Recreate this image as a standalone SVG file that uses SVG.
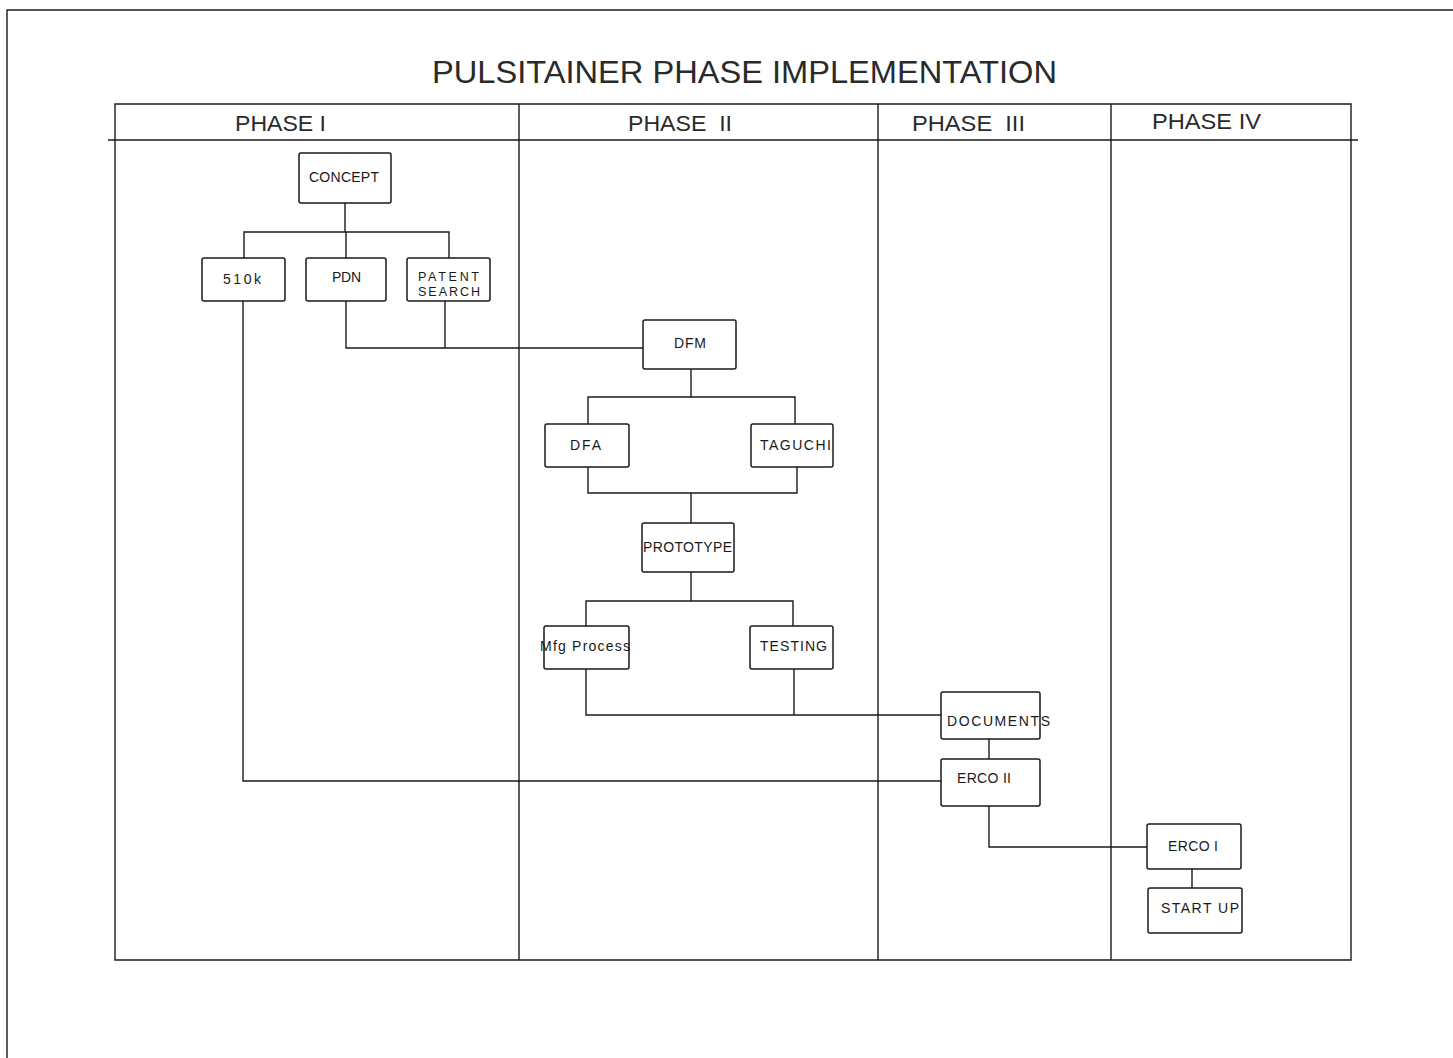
<svg xmlns="http://www.w3.org/2000/svg" width="1453" height="1058" viewBox="0 0 1453 1058">
<style>
.ln{fill:none;stroke:#1a1a1a;stroke-width:1.4}
.box{fill:#fff;stroke:#1a1a1a;stroke-width:1.5}
.t{font-family:"Liberation Sans",Arial,sans-serif;fill:#1a1a1a}
.lbl{font-size:14px;letter-spacing:1px}
.sm{font-size:12.5px}
.ph{font-size:22px;fill:#2a2a2a}
.ttl{font-size:31px;fill:#2a2a2a}
</style>
<rect width="1453" height="1058" fill="#fff"/>
<g id="frame">
<path class="ln" d="M7,1058 V10 H1453"/>
<path class="ln" d="M115,960 V104 H1351 V960 Z"/>
<path class="ln" d="M108,140 H1358"/>
<path class="ln" d="M519,104 V960 M878,104 V960 M1111,104 V960"/>
<text class="t ttl" x="432" y="83" textLength="625" lengthAdjust="spacingAndGlyphs">PULSITAINER PHASE IMPLEMENTATION</text>
<text class="t ph" x="235" y="131" textLength="91" lengthAdjust="spacingAndGlyphs">PHASE I</text>
<text class="t ph" x="628" y="131" textLength="104" lengthAdjust="spacingAndGlyphs" xml:space="preserve">PHASE  II</text>
<text class="t ph" x="912" y="131" textLength="113" lengthAdjust="spacingAndGlyphs" xml:space="preserve">PHASE  III</text>
<text class="t ph" x="1152" y="129" textLength="109" lengthAdjust="spacingAndGlyphs">PHASE IV</text>
</g>
<g id="connectors">
<path class="ln" d="M345,203 V232 M244,258 V232 H449 V258 M346,232 V258"/>
<path class="ln" d="M243,301 V781 H941"/>
<path class="ln" d="M346,301 V348 H643 M445,301 V348"/>
<path class="ln" d="M691,369 V397 M588,424 V397 H795 V424"/>
<path class="ln" d="M588,467 V493 H797 V467 M691,493 V523"/>
<path class="ln" d="M691,572 V601 M586,626 V601 H793 V626"/>
<path class="ln" d="M586,669 V715 H941 M794,669 V715"/>
<path class="ln" d="M989,739 V759"/>
<path class="ln" d="M989,806 V847 H1147"/>
<path class="ln" d="M1192,869 V888"/>
</g>
<g id="concept"><rect class="box" x="299" y="153" width="92" height="50" rx="2"/><text class="t lbl" x="309" y="182" textLength="71">CONCEPT</text></g>
<g id="n510k"><rect class="box" x="202" y="258" width="83" height="43" rx="2"/><text class="t lbl" x="223" y="284" textLength="39">510k</text></g>
<g id="pdn"><rect class="box" x="306" y="258" width="80" height="43" rx="2"/><text class="t lbl" x="332" y="282" textLength="30">PDN</text></g>
<g id="patent"><rect class="box" x="407" y="258" width="83" height="43" rx="2"/><text class="t lbl sm" x="418" y="281" textLength="62">PATENT</text><text class="t lbl sm" x="418" y="296" textLength="63">SEARCH</text></g>
<g id="dfm"><rect class="box" x="643" y="320" width="93" height="49" rx="2"/><text class="t lbl" x="674" y="348" textLength="33">DFM</text></g>
<g id="dfa"><rect class="box" x="545" y="424" width="84" height="43" rx="2"/><text class="t lbl" x="570" y="450" textLength="32">DFA</text></g>
<g id="taguchi"><rect class="box" x="751" y="424" width="82" height="43" rx="2"/><text class="t lbl" x="760" y="450" textLength="72">TAGUCHI</text></g>
<g id="prototype"><rect class="box" x="642" y="523" width="92" height="49" rx="2"/><text class="t lbl" x="643" y="552" textLength="90">PROTOTYPE</text></g>
<g id="mfg"><rect class="box" x="544" y="626" width="85" height="43" rx="2"/><text class="t lbl" x="540" y="651" textLength="91">Mfg Process</text></g>
<g id="testing"><rect class="box" x="750" y="626" width="83" height="43" rx="2"/><text class="t lbl" x="760" y="651" textLength="68">TESTING</text></g>
<g id="documents"><rect class="box" x="941" y="692" width="99" height="47" rx="2"/><text class="t lbl" x="947" y="726" textLength="104">DOCUMENTS</text></g>
<g id="erco2"><rect class="box" x="941" y="759" width="99" height="47" rx="2"/><text class="t lbl" x="957" y="783" textLength="55">ERCO II</text></g>
<g id="erco1"><rect class="box" x="1147" y="824" width="94" height="45" rx="2"/><text class="t lbl" x="1168" y="851" textLength="51">ERCO I</text></g>
<g id="startup"><rect class="box" x="1148" y="888" width="94" height="45" rx="2"/><text class="t lbl" x="1161" y="913" textLength="79">START UP</text></g>
</svg>
